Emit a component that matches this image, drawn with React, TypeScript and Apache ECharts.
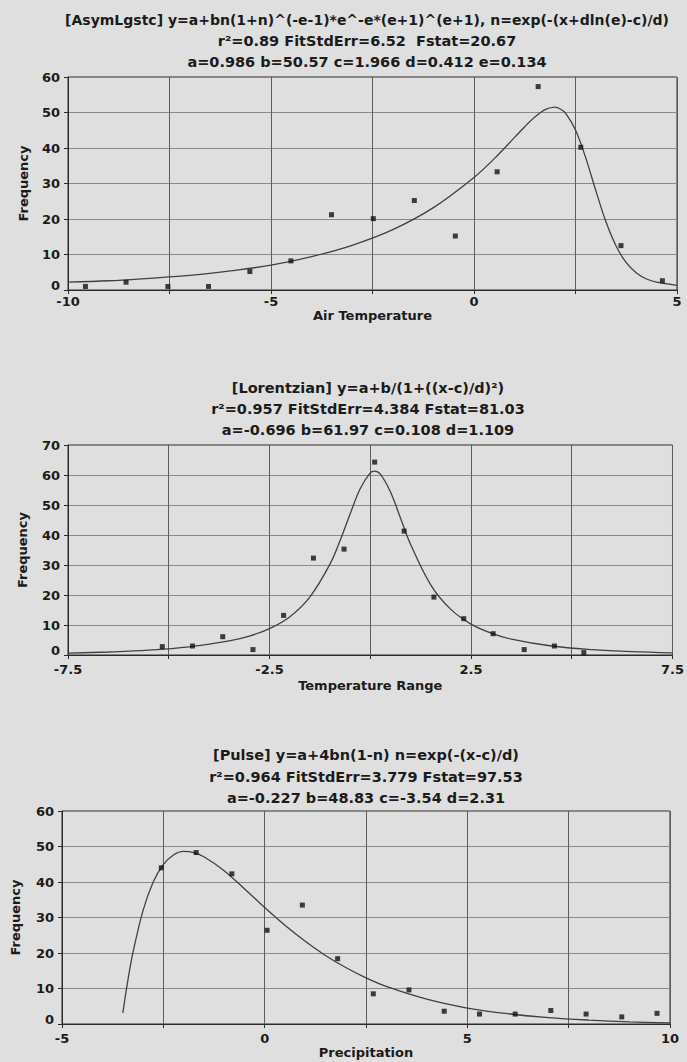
import React, { useEffect, useRef } from "react";
import * as echarts from "echarts";

const FONT = "DejaVu Sans";
const BG = "#dfdfdf";

// ---------- Chart 1: Air Temperature (AsymLgstc) ----------
const title1 = [
  "[AsymLgstc] y=a+bn(1+n)^(-e-1)*e^-e*(e+1)^(e+1), n=exp(-(x+dln(e)-c)/d)",
  "r²=0.89 FitStdErr=6.52  Fstat=20.67",
  "a=0.986 b=50.57 c=1.966 d=0.412 e=0.134",
];
const airX = [-9.57, -8.57, -7.54, -6.54, -5.52, -4.51, -3.51, -2.48, -1.47, -0.46, 0.57, 1.58, 2.63, 3.62, 4.64];
const airFreq = [1.0, 2.2, 1.0, 1.0, 5.2, 8.2, 21.2, 20.1, 25.2, 15.2, 33.3, 57.3, 40.2, 12.5, 2.6];
const airCurveX = [-10, -9, -8, -7, -6, -5, -4, -3, -2, -1, 0, 0.5, 1, 1.25, 1.5, 1.75, 2, 2.125, 2.25, 2.5, 2.75, 3, 3.25, 3.5, 3.75, 4, 4.25, 4.5, 5];
const airCurveY = [2.2, 2.6, 3.3, 4.1, 5.4, 7.0, 9.4, 12.6, 17.0, 23.2, 31.7, 37.0, 43.0, 46.0, 48.7, 50.8, 51.5, 51.0, 49.9, 45.1, 37.3, 28.0, 19.2, 12.4, 7.7, 4.8, 3.1, 2.2, 1.3];

// ---------- Chart 2: Temperature Range (Lorentzian) ----------
const title2 = [
  "[Lorentzian] y=a+b/(1+((x-c)/d)²)",
  "r²=0.957 FitStdErr=4.384 Fstat=81.03",
  "a=-0.696 b=61.97 c=0.108 d=1.109",
];
const rangeX = [-5.16, -4.41, -3.66, -2.91, -2.15, -1.41, -0.65, 0.11, 0.84, 1.58, 2.32, 3.05, 3.82, 4.57, 5.3];
const rangeFreq = [2.8, 3.0, 6.1, 1.8, 13.2, 32.3, 35.3, 64.3, 41.3, 19.3, 12.1, 7.1, 1.8, 3.0, 0.8];
const rangeCurveX = [-7.5, -6.5, -5.5, -4.5, -3.5, -3, -2.5, -2, -1.5, -1, -0.75, -0.5, -0.25, 0, 0.1, 0.25, 0.5, 0.75, 1, 1.5, 2, 2.5, 3, 3.5, 4.5, 5.5, 6.5, 7.5];
const rangeCurveY = [0.6, 1.0, 1.6, 2.7, 4.7, 6.3, 8.8, 12.7, 19.3, 30.3, 38.1, 47.0, 55.4, 60.7, 61.3, 60.3, 54.4, 45.7, 36.9, 23.4, 15.2, 10.3, 7.3, 5.3, 3.0, 1.8, 1.1, 0.7];

// ---------- Chart 3: Precipitation (Pulse) ----------
const title3 = [
  "[Pulse] y=a+4bn(1-n) n=exp(-(x-c)/d)",
  "r²=0.964 FitStdErr=3.779 Fstat=97.53",
  "a=-0.227 b=48.83 c=-3.54 d=2.31",
];
const precX = [-2.55, -1.69, -0.81, 0.06, 0.93, 1.8, 2.68, 3.56, 4.43, 5.3, 6.18, 7.06, 7.93, 8.81, 9.68];
const precFreq = [44.0, 48.3, 42.3, 26.4, 33.5, 18.4, 8.5, 9.6, 3.6, 2.8, 2.8, 3.8, 2.8, 2.0, 3.0];
const precCurveX = [-3.5, -3.375, -3.25, -3, -2.75, -2.5, -2.25, -2, -1.75, -1.5, -1, -0.5, 0, 0.5, 1, 1.5, 2, 2.5, 3, 4, 5, 6, 7, 8, 9, 10];
const precCurveY = [3.1, 12.3, 20.1, 32.0, 40.0, 44.9, 47.6, 48.6, 48.3, 47.1, 43.2, 38.1, 32.8, 27.8, 23.3, 19.3, 15.9, 13.0, 10.6, 7.0, 4.5, 2.9, 1.8, 1.1, 0.6, 0.3];

const zip = (xs: number[], ys: number[]) => xs.map((x, i) => [x, ys[i]]);

const grids = [
  { left: 68, top: 77, width: 609, height: 213 },
  { left: 68, top: 445, width: 607, height: 210 },
  { left: 62, top: 811, width: 608, height: 213 },
];
const titleY = [
  [20, 41, 62],
  [388, 409, 430],
  [755, 777, 798],
];
const titleCX = [367, 368, 366];
const titleSize = [14, 14.5, 14.5];

const textStyleBase = { color: "#1b1b1b", fontFamily: FONT, fontWeight: "bold" as const };

function xAxis(i: number, min: number, max: number, name: string, show: (v: number) => boolean, labelMargin: number, nameGap: number) {
  return {
    type: "value",
    gridIndex: i,
    min,
    max,
    interval: 2.5,
    name,
    nameLocation: "middle",
    nameGap,
    nameTextStyle: { ...textStyleBase, fontSize: 13 },
    axisLine: { show: true, onZero: false, lineStyle: { color: "#2a2a2a", width: 1 } },
    axisTick: { show: true, inside: false, length: 4, lineStyle: { color: "#2a2a2a" } },
    axisLabel: {
      ...textStyleBase,
      fontSize: 13,
      lineHeight: 12,
      margin: labelMargin,
      hideOverlap: false,
      showMinLabel: true,
      showMaxLabel: true,
      formatter: (v: number) => (show(v) ? String(v) : ""),
    },
    splitLine: { show: true, lineStyle: { color: "#5c5c5c", width: 1 } },
  };
}

function yAxis(i: number, max: number, nameGap: number) {
  return {
    type: "value",
    gridIndex: i,
    min: 0,
    max,
    interval: 10,
    name: "Frequency",
    nameLocation: "middle",
    nameGap,
    nameTextStyle: { ...textStyleBase, fontSize: 13 },
    axisLine: { show: true, onZero: false, lineStyle: { color: "#2a2a2a", width: 1 } },
    axisTick: { show: true, inside: false, length: 4, lineStyle: { color: "#2a2a2a" } },
    axisLabel: {
      ...textStyleBase,
      fontSize: 13,
      lineHeight: 10,
      margin: 8,
      formatter: (v: number) => (v === 0 ? "{z|0}" : String(v)),
      rich: {
        z: { ...textStyleBase, fontSize: 13, lineHeight: 10, padding: [0, 0, 9, 0] },
      },
    },
    splitLine: { show: true, lineStyle: { color: "#8a8a8a", width: 1 } },
  };
}

function scatter(i: number, xs: number[], ys: number[]) {
  return {
    type: "scatter",
    xAxisIndex: i,
    yAxisIndex: i,
    data: zip(xs, ys),
    symbol: "rect",
    symbolSize: 5,
    itemStyle: { color: "#111111" },
    z: 5,
  };
}

function curve(i: number, xs: number[], ys: number[]) {
  return {
    type: "line",
    xAxisIndex: i,
    yAxisIndex: i,
    data: zip(xs, ys),
    showSymbol: false,
    smooth: 0.35,
    lineStyle: { color: "#404040", width: 1.3 },
    z: 4,
  };
}

export default function App() {
  const ref = useRef<HTMLDivElement>(null);
  useEffect(() => {
    document.body.style.margin = "0";
    document.body.style.background = BG;
    if (!ref.current) return;
    const chart = echarts.init(ref.current, null, { renderer: "svg" });
    const allTitles = [title1, title2, title3];
    const graphic: any[] = [];
    allTitles.forEach((lines, c) => {
      lines.forEach((t, k) => {
        graphic.push({
          type: "text",
          x: titleCX[c],
          y: titleY[c][k],
          style: {
            text: t,
            fill: "#1b1b1b",
            fontFamily: FONT,
            fontWeight: "bold",
            fontSize: k === 0 ? titleSize[c] : 14.5,
            textAlign: "center",
            textVerticalAlign: "middle",
            align: "center",
            verticalAlign: "middle",
          },
        });
      });
    });
    chart.setOption({
      animation: false,
      backgroundColor: BG,
      grid: grids.map((g) => ({ ...g, show: true, borderColor: "#2a2a2a", borderWidth: 1, backgroundColor: "transparent", containLabel: false })),
      xAxis: [
        xAxis(0, -10, 5, "Air Temperature", (v) => Math.abs(v % 5) < 1e-9, 5, 19),
        xAxis(1, -7.5, 7.5, "Temperature Range", (v) => Math.abs((v + 7.5) % 5) < 1e-9, 8, 24),
        xAxis(2, -5, 10, "Precipitation", (v) => Math.abs(v % 5) < 1e-9, 8, 22),
      ],
      yAxis: [yAxis(0, 60, 38), yAxis(1, 70, 39), yAxis(2, 60, 40)],
      series: [
        curve(0, airCurveX, airCurveY),
        scatter(0, airX, airFreq),
        curve(1, rangeCurveX, rangeCurveY),
        scatter(1, rangeX, rangeFreq),
        curve(2, precCurveX, precCurveY),
        scatter(2, precX, precFreq),
      ],
      graphic,
    });
    return () => chart.dispose();
  }, []);
  return (
    <div style={{ position: "fixed", left: 0, top: 0, width: 687, height: 1062, background: BG }}>
      <div ref={ref} style={{ width: 687, height: 1062 }} />
    </div>
  );
}
